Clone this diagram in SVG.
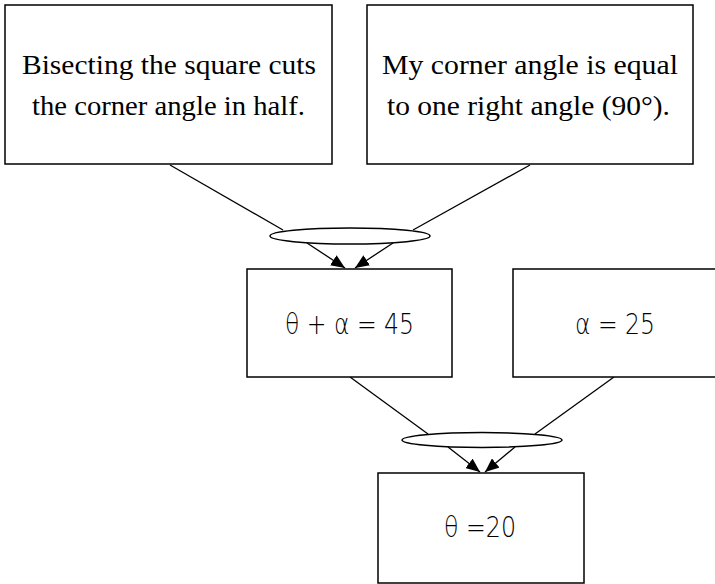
<svg xmlns="http://www.w3.org/2000/svg" width="715" height="584" viewBox="0 0 715 584">
<style>
.box{fill:#fff;stroke:#000;stroke-width:1.5}
.ell{fill:#fff;stroke:#000;stroke-width:1.5}
.edge{fill:none;stroke:#000;stroke-width:1.3}
.serif{font-family:"Liberation Serif","Times New Roman",serif;font-size:27px;fill:#000}
.math{font-family:"DejaVu Sans","Liberation Sans",sans-serif;font-size:29px;font-weight:300;fill:#000}
</style>
<defs>
<marker id="arr" viewBox="0 0 14 12" refX="14" refY="6" markerWidth="14" markerHeight="12" markerUnits="userSpaceOnUse" orient="auto">
<path d="M0,0 L14,6 L0,12 z" fill="#000"/>
</marker>
</defs>
<g id="connectors">
<line class="edge" x1="170" y1="165" x2="283" y2="230"/>
<line class="edge" x1="530" y1="165" x2="413" y2="230"/>
<line class="edge" x1="307" y1="243" x2="345" y2="268" marker-end="url(#arr)"/>
<line class="edge" x1="393" y1="243" x2="355" y2="268" marker-end="url(#arr)"/>
<line class="edge" x1="350" y1="377" x2="428" y2="434"/>
<line class="edge" x1="614" y1="377" x2="535" y2="434"/>
<line class="edge" x1="448" y1="447" x2="480" y2="472" marker-end="url(#arr)"/>
<line class="edge" x1="515" y1="447" x2="485" y2="472" marker-end="url(#arr)"/>
</g>
<g id="and1"><ellipse class="ell" cx="350" cy="236" rx="80" ry="8"/></g>
<g id="and2"><ellipse class="ell" cx="482" cy="440" rx="80" ry="7.5"/></g>
<g id="n1">
<rect class="box" x="5" y="5" width="327" height="159"/>
<text class="serif" x="22" y="74" textLength="294" lengthAdjust="spacingAndGlyphs">Bisecting the square cuts</text>
<text class="serif" x="32" y="115" textLength="273" lengthAdjust="spacingAndGlyphs">the corner angle in half.</text>
</g>
<g id="n2">
<rect class="box" x="367" y="5" width="326" height="159"/>
<text class="serif" x="382" y="74" textLength="296" lengthAdjust="spacingAndGlyphs">My corner angle is equal</text>
<text class="serif" x="387" y="115" textLength="283" lengthAdjust="spacingAndGlyphs">to one right angle (90°).</text>
</g>
<g id="n3">
<rect class="box" x="247" y="269" width="205" height="108"/>
<text class="math" x="285" y="334" textLength="129" lengthAdjust="spacingAndGlyphs">θ + α = 45</text>
</g>
<g id="n4">
<rect class="box" x="513" y="269" width="210" height="108"/>
<text class="math" x="575" y="334" textLength="80" lengthAdjust="spacingAndGlyphs">α = 25</text>
</g>
<g id="n5">
<rect class="box" x="378" y="473" width="206" height="110"/>
<text class="math" x="444" y="537" textLength="72" lengthAdjust="spacingAndGlyphs">θ =20</text>
</g>
</svg>
